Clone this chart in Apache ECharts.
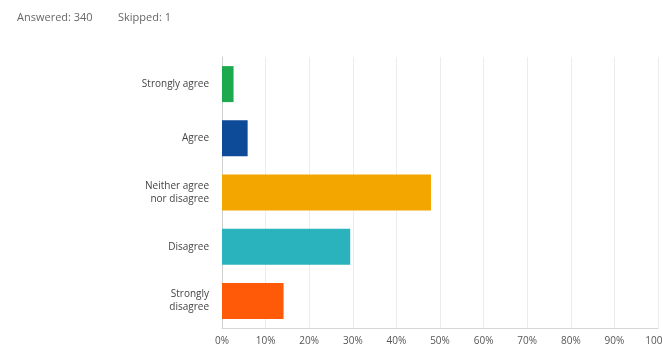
<!DOCTYPE html>
<html><head><meta charset="utf-8">
<script src="https://cdn.jsdelivr.net/npm/echarts@6/dist/echarts.min.js"></script>
<style>html,body{margin:0;padding:0;background:#fff}#c{width:663px;height:350px}</style>
</head><body><div id="c"></div>
<script>
const categories = ["Strongly agree", "Agree", "Neither agree\nnor disagree", "Disagree", "Strongly\ndisagree"];
const values = [2.65, 5.88, 47.94, 29.41, 14.12];
const colors = ["#1daa4f", "#0d4a97", "#f4a600", "#2bb3bd", "#ff5a08"];
const tickLabels = ["0%", "10%", "20%", "30%", "40%", "50%", "60%", "70%", "80%", "90%", "100%"];
const answeredText = "Answered: 340";
const skippedText = "Skipped: 1";

const chart = echarts.init(document.getElementById('c'));
chart.setOption({
  animation: false,
  graphic: [
    {type: 'text', left: 17, top: 12, style: {text: answeredText, fill: '#666', font: '11px "Open Sans", sans-serif'}},
    {type: 'text', left: 118, top: 12, style: {text: skippedText, fill: '#666', font: '11px "Open Sans", sans-serif'}}
  ],
  grid: {left: 222, right: 5, top: 57, bottom: 22, containLabel: false, outerBoundsMode: 'none'},
  xAxis: {
    type: 'value', min: 0, max: 100, interval: 10,
    axisLine: {show: true, lineStyle: {color: '#d6d6d6', width: 1}}, axisTick: {show: false},
    splitLine: {show: true, lineStyle: {color: '#ececec', width: 1}},
    axisLabel: {formatter: v => tickLabels[v / 10], color: '#555', fontSize: 10, margin: 8, fontFamily: '"Open Sans", sans-serif', hideOverlap: false}
  },
  yAxis: {
    type: 'category', inverse: true, data: categories,
    axisLine: {show: true, lineStyle: {color: '#d0d0d0', width: 1}},
    axisTick: {show: false},
    axisLabel: {color: '#444', fontSize: 10, margin: 13, lineHeight: 13, fontFamily: '"Open Sans", sans-serif'}
  },
  series: [{
    type: 'bar', barWidth: 36,
    data: values.map((v, i) => ({value: v, itemStyle: {color: colors[i]}}))
  }]
});
</script></body></html>
